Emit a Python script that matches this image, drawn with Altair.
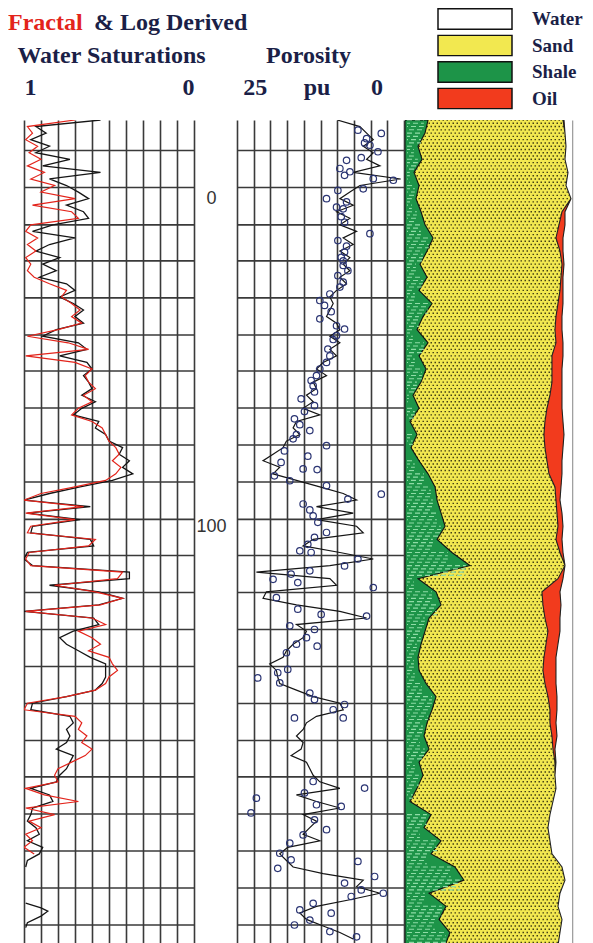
import altair as alt
import pandas as pd

# ------------------------------------------------------------------ data
# Track 1: water saturation (fraction), depth in ft (0 and 100 are the depth marks)
sw_log_depth = list(range(-24, 206, 2))
sw_log = [0.55, 0.93, 0.87, 0.96, 0.85, 0.93, 0.73, 0.89, 0.55, 0.85,
          0.75, 0.68, 0.62, 0.75, 0.65, 0.62, 0.83, 0.95, 0.70, 0.85,
          0.93, 0.79, 0.89, 0.81, 0.91, 0.75, 0.70, 0.79, 0.71, 0.65,
          0.70, 0.65, 0.81, 0.89, 0.68, 0.63, 0.79, 0.63, 0.60, 0.65,
          0.62, 0.60, 0.66, 0.58, 0.66, 0.71, 0.56, 0.58, 0.52, 0.50,
          0.42, 0.44, 0.38, 0.42, 0.36, 0.48, 0.67, 0.85, 1.00, 0.61,
          0.98, 0.67, 0.95, 0.96, 0.61, 0.59, 0.98, 1.00, 0.95, 0.38,
          0.38, 0.85, 0.56, 0.42, 0.56, 1.00, 0.59, 0.56, 0.71, 0.79,
          0.75, 0.68, 0.61, 0.52, 0.52, 0.52, 0.54, 0.58, 0.75, 0.95,
          0.96, 0.73, 0.71, 0.75, 0.73, 0.75, 0.81, 0.71, 0.73, 0.75,
          0.79, 0.81, 0.96, 0.85, 0.83, 0.95, 0.96, 0.98, 0.93, 0.91,
          0.98, 0.89, 0.91, 0.98, 0.99]
sw_log_tail_depth = [215, 216.5, 217.5, 219, 221, 222.5]
sw_log_tail = [0.99, 0.90, 0.86, 0.90, 0.98, 0.99]

sw_fractal_depth = list(range(-24, 202, 2))
sw_fractal = [0.70, 0.98, 0.95, 0.99, 0.92, 0.97, 0.90, 0.98, 0.88, 0.96,
              0.82, 0.90, 0.70, 0.95, 0.72, 0.68, 0.96, 0.99, 0.92, 0.98,
              0.93, 0.99, 0.96, 0.98, 0.94, 0.85, 0.75, 0.78, 0.72, 0.67,
              0.72, 0.66, 0.80, 0.98, 0.74, 0.62, 0.99, 0.70, 0.60, 0.64,
              0.62, 0.58, 0.65, 0.60, 0.68, 0.72, 0.60, 0.54, 0.52, 0.50,
              0.46, 0.44, 0.48, 0.43, 0.46, 0.52, 0.70, 0.90, 1.00, 0.65,
              0.99, 0.70, 0.96, 0.98, 0.58, 0.62, 0.97, 0.99, 0.96, 0.42,
              0.45, 0.82, 0.58, 0.42, 0.55, 0.99, 0.60, 0.52, 0.68, 0.60,
              0.55, 0.62, 0.50, 0.48, 0.45, 0.50, 0.52, 0.58, 0.75, 0.98,
              1.00, 0.70, 0.66, 0.68, 0.63, 0.66, 0.60, 0.64, 0.72, 0.80,
              0.82, 0.80, 0.99, 0.88, 0.68, 0.99, 0.82, 0.97, 0.90, 0.99,
              0.95, 1.00, 0.94]

# Track 2: porosity (pu)
phi_depth = list(range(-24, 228, 2))
phi_log = [10.0, 6.6, 5.6, 4.6, 6.1, 4.6, 5.6, 3.6, 7.6, 0.5,
           6.6, 8.1, 9.6, 7.6, 10.1, 8.1, 9.6, 7.1, 9.1, 7.6,
           9.6, 8.1, 9.1, 8.1, 9.6, 8.6, 10.1, 11.1, 10.6, 11.1,
           11.6, 10.1, 9.6, 11.1, 9.6, 11.1, 10.1, 12.1, 13.1, 11.6,
           13.6, 13.1, 14.6, 13.6, 15.1, 12.6, 16.1, 16.6, 15.6, 17.6,
           18.1, 19.6, 21.1, 18.6, 19.6, 16.1, 12.6, 9.1, 7.1, 13.1,
           7.6, 13.1, 7.1, 6.1, 13.6, 15.1, 9.6, 4.6, 11.1, 22.1,
           11.1, 10.1, 20.6, 21.1, 16.1, 9.6, 5.6, 16.1, 14.6, 15.1,
           16.6, 17.6, 18.1, 20.1, 19.1, 18.9, 18.6, 16.1, 13.6, 9.6,
           9.1, 13.1, 14.6, 15.1, 16.1, 15.1, 15.4, 16.9, 14.6, 14.1,
           13.6, 12.6, 9.6, 16.1, 13.1, 9.6, 15.1, 13.1, 14.1, 15.1,
           12.6, 17.4, 18.6, 17.6, 16.6, 12.1, 6.1, 7.1, 3.6, 8.1,
           13.1, 15.6, 14.6, 12.1, 9.6, 7.6]

core_depth = [-20.9, -19.9, -18.3, -16.3, -14.3, -11.7, -9.2, -7.1, -6.1, -5.6,
              -3.0, -2.5, 0.0, 1.0, 2.6, 3.1, 10.7, 12.8, 16.3, 17.9,
              20.4, 23.5, 25.5, 29.1, 31.1, 32.6, 36.7, 38.8, 39.8, 41.8,
              45.9, 50.0, 52.0, 54.0, 57.1,
              61.1, 63.2, 67.2, 70.8, 73.3, 75.4, 78.6, 82.5, 82.7, 84.6,
              86.1, 87.6, 90.2, 91.7, 93.2, 95.0, 98.8, 101.9, 103.4, 105.5,
              107.5, 108.0, 110.0, 112.1, 113.6, 114.6, 117.2, 116.2, 118.7, 121.8,
              125.3, 126.9, 127.4, 130.4, 131.5, 134.0, 136.0, 136.6,
              138.6, 143.7, 144.7, 146.3, 147.8, 150.9, 152.9, 154.4, 156.0, 158.5,
              158.5, 177.9, 179.9, 181.4, 183.0, 185.0, 185.5, 187.5, 189.6, 192.6,
              194.2, 196.7, 199.8, 201.8, 202.3, 204.4, 206.9, 208.9, 211.0, 212.0,
              213.0, 215.1, 217.1, 218.1, 220.2, 221.7, 223.7, 225.3,
              -17.0, -12.5, -8.2, 5.5, 7.2, 14.5, 19.0, 22.0, 27.0, 34.5,
              43.0, 48.0, 55.5, 59.0, 65.0, 69.0, 72.0, 77.0, 80.5, 96.8]
core_phi = [6.9, 3.4, 5.6, 5.1, 3.9, 8.6, 9.6, 8.9, 4.6, 1.6,
            6.1, 9.9, 11.6, 8.6, 10.1, 9.1, 5.1, 9.9, 8.9, 9.4,
            9.1, 9.9, 9.1, 11.1, 12.6, 11.9, 12.6, 10.1, 8.9, 10.1,
            11.4, 11.6, 12.6, 13.1, 13.6,
            15.4, 13.4, 16.4, 14.1, 16.6, 11.6, 14.4, 15.1, 13.0, 19.4,
            17.1, 11.6, 3.4, 8.4, 15.1, 14.1, 12.9, 11.6, 13.4, 14.4,
            15.6, 13.9, 6.9, 8.9, 14.1, 16.9, 15.9, 19.6, 4.6, 19.1,
            15.9, 12.4, 5.6, 17.1, 13.4, 14.6, 16.1, 13.0,
            17.6, 17.4, 18.9, 21.9, 18.6, 14.1, 13.4, 8.9, 10.6, 16.4,
            9.1, 13.6, 5.9, 14.9, 22.1, 13.1, 9.4, 22.9, 13.4, 11.6,
            15.1, 17.1, 18.6, 16.9, 6.9, 18.9, 4.4, 8.9, 6.4, 3.1,
            7.9, 13.6, 15.6, 10.9, 14.1, 16.4, 11.1, 7.1,
            5.9, 6.4, 8.1, 9.4, 8.9, 8.6, 9.1, 8.4, 9.6, 10.9,
            10.6, 11.1, 13.9, 13.4, 14.9, 15.6, 16.1, 17.9, 18.4, 13.6]

# Track 3: lithology volumes (fraction of bulk volume); water is the remainder
lith_depth = list(range(-24, 232, 4))
v_shale = [0.138, 0.120, 0.078, 0.102, 0.054, 0.084, 0.066, 0.096, 0.120, 0.168,
           0.132, 0.090, 0.132, 0.084, 0.162, 0.108, 0.072, 0.138, 0.084, 0.126,
           0.096, 0.048, 0.084, 0.030, 0.072, 0.036, 0.084, 0.138, 0.180, 0.192,
           0.216, 0.240, 0.192, 0.281, 0.389, 0.078, 0.186, 0.216, 0.144, 0.120,
           0.096, 0.078, 0.084, 0.126, 0.186, 0.162, 0.132, 0.114, 0.144, 0.084,
           0.108, 0.072, 0.030, 0.156, 0.114, 0.216, 0.156, 0.299, 0.353, 0.144,
           0.246, 0.204, 0.269, 0.240]
v_sand = [0.808, 0.838, 0.886, 0.856, 0.922, 0.880, 0.928, 0.844, 0.802, 0.736,
          0.796, 0.850, 0.802, 0.844, 0.754, 0.796, 0.826, 0.766, 0.796, 0.754,
          0.784, 0.820, 0.766, 0.808, 0.760, 0.802, 0.766, 0.724, 0.718, 0.712,
          0.694, 0.676, 0.712, 0.647, 0.569, 0.838, 0.634, 0.610, 0.694, 0.736,
          0.748, 0.754, 0.742, 0.712, 0.670, 0.706, 0.736, 0.766, 0.742, 0.814,
          0.790, 0.832, 0.856, 0.712, 0.742, 0.652, 0.724, 0.641, 0.605, 0.784,
          0.670, 0.736, 0.659, 0.676]
v_oil = [0.006, 0.0, 0.0, 0.0, 0.0, 0.0, 0.0, 0.018, 0.036, 0.042,
         0.018, 0.012, 0.012, 0.018, 0.030, 0.036, 0.042, 0.042, 0.066, 0.060,
         0.060, 0.072, 0.090, 0.108, 0.120, 0.108, 0.090, 0.078, 0.036, 0.024,
         0.030, 0.030, 0.036, 0.018, 0.0, 0.030, 0.108, 0.108, 0.090, 0.072,
         0.072, 0.072, 0.078, 0.066, 0.054, 0.042, 0.036, 0.030, 0.012, 0.006,
         0.0, 0.0, 0.0, 0.0, 0.0, 0.0, 0.0, 0.0, 0.0, 0.0,
         0.0, 0.0, 0.0, 0.0]

grid_depth = [-14.7, -3.4, 8.0, 19.0, 30.3, 41.6, 52.6, 63.9, 75.2, 86.5, 97.9,
              108.9, 120.2, 131.5, 142.8, 154.1, 165.4, 176.5, 187.8, 199.1, 210.4, 221.7]
depth_marks = [0, 100]
sw_ticks = [0, 0.1, 0.2, 0.3, 0.4, 0.5, 0.6, 0.7, 0.8, 0.9, 1.0]
phi_ticks = [0, 2.5, 5, 7.5, 10, 12.5, 15, 17.5, 20, 22.5, 25]
lith_names = ["Water", "Sand", "Shale", "Oil"]
header_parts = ["Fractal", "& Log Derived"]

# ------------------------------------------------------------------ style
NAVY = "#1b1f47"
RED_TXT = "#e3241b"
SERIF = "Liberation Serif"
SANS = "Liberation Sans"
GRID = "#3a3a3a"
W1, W2, W3, H = 170, 167, 167, 824
yscale = alt.Scale(domain=[-24, 227.5], reverse=True, nice=False, zero=False)

log_df = pd.DataFrame({
    "depth": sw_log_depth + sw_log_tail_depth,
    "sw": sw_log + sw_log_tail,
    "seg": ["a"] * len(sw_log) + ["b"] * len(sw_log_tail),
})
frac_df = pd.DataFrame({"depth": sw_fractal_depth, "sw": sw_fractal})
grid_df = pd.DataFrame({"gd": grid_depth})
phi_df = pd.DataFrame({"depth": phi_depth, "phi": phi_log})
core_df = pd.DataFrame({"depth": core_depth, "phi": core_phi})
lith = pd.DataFrame({"depth": lith_depth, "vsh": v_shale, "vsand": v_sand, "voil": v_oil})
lith["sh_r"] = lith["vsh"]
lith["sd_r"] = lith["vsh"] + lith["vsand"]
lith["oil_r"] = lith["sd_r"] + lith["voil"]

# ------------------------------------------------------------------ track 1
x1 = alt.Scale(domain=[0, 1], reverse=True, nice=False, zero=False)
ax1 = alt.Axis(orient="top", values=sw_ticks, grid=True, gridColor=GRID, gridWidth=1.6,
               ticks=False, tickSize=0, domain=False,
               labelExpr="datum.value == 1 ? '1' : (datum.value == 0 ? '0' : '')",
               labelFlush=True, labelOverlap=False, labelFont=SERIF, labelFontSize=24,
               labelFontWeight="bold", labelColor=NAVY, labelBaseline="alphabetic",
               labelPadding=26, title="Water Saturations", titleFont=SERIF,
               titleFontSize=24, titleFontWeight="bold", titleColor=NAVY,
               titleX=87, titleY=-58, titleBaseline="alphabetic", titleAlign="center")

grid1 = alt.Chart(grid_df).mark_rule(color=GRID, strokeWidth=1.6).encode(
    y=alt.Y("gd:Q", scale=yscale, axis=None))
log_line = alt.Chart(log_df).mark_line(color="#151515", strokeWidth=1.3, clip=True).encode(
    x=alt.X("sw:Q", scale=x1, axis=ax1),
    y=alt.Y("depth:Q", scale=yscale, axis=None),
    detail="seg:N", order="depth:Q")
frac_line = alt.Chart(frac_df).mark_line(color="#e3241b", strokeWidth=1.2, clip=True).encode(
    x=alt.X("sw:Q", scale=x1, axis=ax1),
    y=alt.Y("depth:Q", scale=yscale, axis=None),
    order="depth:Q")
head_red = alt.Chart(pd.DataFrame({"t": [header_parts[0]]})).mark_text(
    align="left", baseline="alphabetic", font=SERIF, fontSize=24, fontWeight="bold",
    color=RED_TXT).encode(text="t:N", x=alt.value(-16), y=alt.value(-90))
head_navy = alt.Chart(pd.DataFrame({"t": [header_parts[1]]})).mark_text(
    align="left", baseline="alphabetic", font=SERIF, fontSize=24, fontWeight="bold",
    color=NAVY).encode(text="t:N", x=alt.value(70), y=alt.value(-90))
t1 = alt.layer(grid1, log_line, frac_line, head_red, head_navy).properties(width=W1, height=H)

# ------------------------------------------------------------------ track 2
x2s = alt.Scale(domain=[0, 25], reverse=True, nice=False, zero=False)
ax2 = alt.Axis(orient="top", values=phi_ticks, grid=True, gridColor=GRID, gridWidth=1.6,
               ticks=False, tickSize=0, domain=False,
               labelExpr="datum.value == 22.5 ? '25' : (datum.value == 12.5 ? 'pu' : (datum.value == 5 ? '0' : ''))",
               labelFlush=False, labelOverlap=False, labelAlign="center",
               labelOffset={"condition": [{"test": "datum.value == 5", "value": 6},
                                          {"test": "datum.value == 12.5", "value": -4}],
                            "value": 1},
               labelFont=SERIF, labelFontSize=24, labelFontWeight="bold", labelColor=NAVY,
               labelBaseline="alphabetic", labelPadding=26, title="Porosity",
               titleFont=SERIF, titleFontSize=24, titleFontWeight="bold", titleColor=NAVY,
               titleX=71, titleY=-58, titleBaseline="alphabetic", titleAlign="center")
yax2 = alt.Axis(orient="left", values=depth_marks, grid=False, ticks=False, tickSize=0,
                domain=False, labelFont=SANS, labelFontSize=18, labelColor="#333333",
                labelAlign="center", labelBaseline="middle", labelPadding=26, title=None)

grid2 = alt.Chart(grid_df).mark_rule(color=GRID, strokeWidth=1.6).encode(
    y=alt.Y("gd:Q", scale=yscale, axis=yax2))
phi_line = alt.Chart(phi_df).mark_line(color="#151515", strokeWidth=1.2, clip=True).encode(
    x=alt.X("phi:Q", scale=x2s, axis=ax2),
    y=alt.Y("depth:Q", scale=yscale, axis=yax2),
    order="depth:Q")
core_pts = alt.Chart(core_df).mark_point(shape="circle", filled=False, size=42,
                                         strokeWidth=1.2, color="#2a3473", opacity=1).encode(
    x=alt.X("phi:Q", scale=x2s, axis=ax2),
    y=alt.Y("depth:Q", scale=yscale, axis=yax2))
t2 = alt.layer(grid2, phi_line, core_pts).properties(width=W2, height=H)

# ------------------------------------------------------------------ track 3
x3 = alt.Scale(domain=[0, 1], nice=False, zero=False)
ax3 = alt.Axis(orient="top", values=[1], grid=True, gridColor="#a0a0a0", gridWidth=1.6,
               labels=False, ticks=False, tickSize=0, domain=False, title=None)
cscale = alt.Scale(domain=lith_names, range=["#ffffff", "#f2e850", "#1d9448", "#f23b1d"])
leg = alt.Legend(orient="none", legendX=32, legendY=-112, title=None,
                 symbolType="M-1,-0.28H1V0.28H-1Z", symbolSize=5476, clipHeight=22,
                 symbolStrokeColor="#111111", symbolStrokeWidth=1.5, symbolOpacity=1,
                 labelFont=SERIF, labelFontSize=19, labelFontWeight="bold",
                 labelColor=NAVY, labelOffset=19, rowPadding=4.5)
col = alt.Color("comp:N", scale=cscale, legend=leg)
ydef3 = alt.Y("depth:Q", scale=yscale, axis=None)

base3 = alt.Chart(lith)
sand = base3.transform_calculate(comp="'Sand'", a0="0", a1="1").mark_area(
    orient="horizontal", clip=True).encode(
    y=ydef3, x=alt.X("a0:Q", scale=x3, axis=ax3, stack=None), x2="a1:Q", color=col)
speck_a = alt.Chart(alt.sequence(-24, 228, 2, as_="d")).mark_rule(
    color="#26230a", strokeDash=[1.5, 2.5], strokeWidth=1.4, opacity=0.85, clip=True).encode(
    y=alt.Y("d:Q", scale=yscale, axis=None))
speck_b = alt.Chart(alt.sequence(-23, 228, 2, as_="d")).mark_rule(
    color="#26230a", strokeDash=[1.5, 2.5], strokeDashOffset=2, strokeWidth=1.4,
    opacity=0.85, clip=True).encode(
    y=alt.Y("d:Q", scale=yscale, axis=None))
water = base3.transform_calculate(comp="'Water'", w1="1").mark_area(
    orient="horizontal", clip=True).encode(
    y=ydef3, x=alt.X("oil_r:Q", scale=x3, axis=ax3, stack=None), x2="w1:Q", color=col)
oil = base3.transform_calculate(comp="'Oil'").mark_area(
    orient="horizontal", clip=True, stroke="#222222", strokeWidth=1.1).encode(
    y=ydef3, x=alt.X("sd_r:Q", scale=x3, axis=ax3, stack=None), x2="oil_r:Q", color=col)
shale = base3.transform_calculate(comp="'Shale'", s0="0").mark_area(
    orient="horizontal", clip=True, stroke="#111111", strokeWidth=1.1).encode(
    y=ydef3, x=alt.X("s0:Q", scale=x3, axis=ax3, stack=None), x2="sh_r:Q", color=col)
dashes = []
for k in range(4):
    dashes.append(
        base3.transform_calculate(dx0="0.012", dx1="max(datum.sh_r - 0.025, 0.012)")
        .mark_rule(color="#8fdca6", strokeDash=[5, 3], strokeDashOffset=2 * k,
                   strokeWidth=1.1, yOffset=3.27 * k, clip=True)
        .encode(y=ydef3, x=alt.X("dx0:Q", scale=x3, axis=ax3), x2="dx1:Q"))
t3 = alt.layer(sand, speck_a, speck_b, water, oil, shale, *dashes).properties(width=W3, height=H)

inner = alt.hconcat(t2, t3, spacing=1, bounds="flush").resolve_scale(color="independent")
chart = (alt.hconcat(t1, inner, spacing=43, bounds="flush")
         .resolve_scale(color="independent")
         .properties(padding=0, background="white")
         .configure_view(stroke=None))

chart.save("out.html", embed_options={"renderer": "svg", "actions": False})
